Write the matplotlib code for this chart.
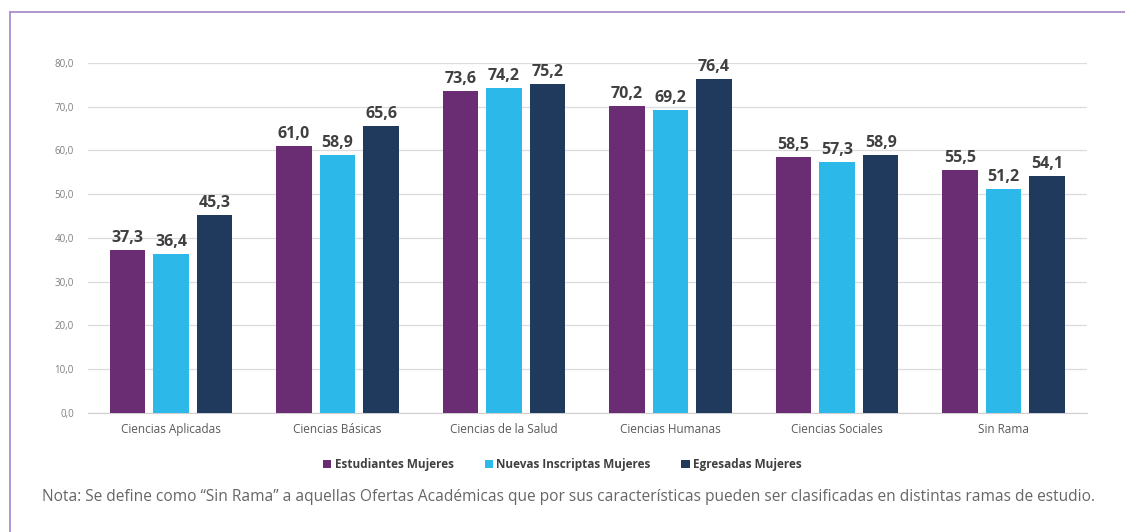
import matplotlib.pyplot as plt
import numpy as np

ramas = ['Ciencias Aplicadas', 'Ciencias Básicas', 'Ciencias de la Salud',
         'Ciencias Humanas', 'Ciencias Sociales', 'Sin Rama']
estudiantes = [37.3, 61.0, 73.6, 70.2, 58.5, 55.5]
inscriptas = [36.4, 58.9, 74.2, 69.2, 57.3, 51.2]
egresadas = [45.3, 65.6, 75.2, 76.4, 58.9, 54.1]
series = ['Estudiantes Mujeres', 'Nuevas Inscriptas Mujeres', 'Egresadas Mujeres']
colores = ['#6a2c72', '#2db8ea', '#1f3a5c']

plt.rcParams['font.family'] = ['Open Sans', 'DejaVu Sans']

fig = plt.figure(figsize=(11.25, 5.32), dpi=100)
ax = fig.add_axes([0.078, 0.2237, 0.888, 0.6579])

x = np.arange(len(ramas))
paso = 0.262
ancho = 0.212
for i, (vals, nombre, c) in enumerate(zip([estudiantes, inscriptas, egresadas], series, colores)):
    barras = ax.bar(x + (i - 1) * paso, vals, ancho, color=c, label=nombre, zorder=3)
    for b, v in zip(barras, vals):
        ax.annotate(f'{v:.1f}'.replace('.', ','), (b.get_x() + b.get_width() / 2, v),
                    xytext=(0, 3), textcoords='offset points', ha='center', va='bottom',
                    fontsize=11.5, fontweight='bold', color='#404040', clip_on=False)

ax.set_xlim(-0.5, len(ramas) - 0.5)
ax.set_ylim(0, 80)
ax.set_yticks(np.arange(0, 81, 10))
ax.set_yticklabels([f'{t:.1f}'.replace('.', ',') for t in np.arange(0, 81, 10)])
ax.set_xticks(x)
ax.set_xticklabels(ramas)
ax.tick_params(axis='y', length=0, labelsize=7, labelcolor='#7f7f7f', pad=10)
ax.tick_params(axis='x', length=0, labelsize=8.5, labelcolor='#595959', pad=7)
ax.grid(axis='y', color='#dcdcdc', linewidth=0.9, zorder=0)
for s in ['top', 'right', 'left']:
    ax.spines[s].set_visible(False)
ax.spines['bottom'].set_color('#cfcfcf')

fig.legend(loc='center', bbox_to_anchor=(0.5, 0.126), ncol=3, frameon=False,
           handlelength=0.7, handleheight=0.7, handletextpad=0.3,
           columnspacing=2.6, labelcolor='#404040', prop={'weight': 'bold', 'size': 8.5})

fig.text(0.037, 0.066, 'Nota: Se define como “Sin Rama” a aquellas Ofertas Académicas que por sus '
         'características pueden ser clasificadas en distintas ramas de estudio.',
         fontsize=11.2, color='#666666', va='center')

# marco lila superior e izquierdo
fig.add_artist(plt.Line2D([0.009, 1], [0.977, 0.977], color='#a98fd0', lw=1.3))
fig.add_artist(plt.Line2D([0.009, 0.009], [0, 0.977], color='#a98fd0', lw=1.3))

fig.savefig('out.png', dpi=100)
